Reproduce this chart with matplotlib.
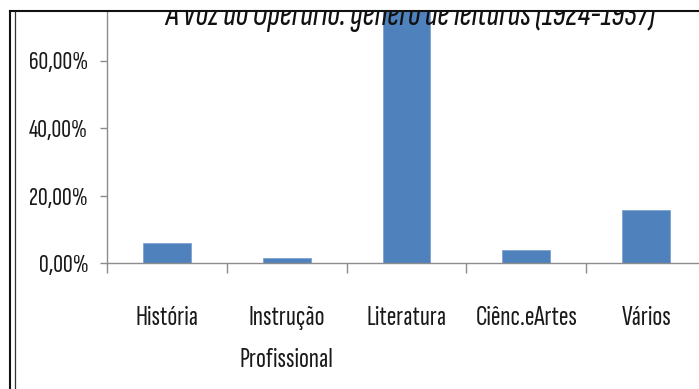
import matplotlib
matplotlib.use("Agg")
import matplotlib.pyplot as plt
from matplotlib.lines import Line2D
from matplotlib.patches import Rectangle
from matplotlib.ticker import FixedLocator, FuncFormatter

# Reading genres in "A Voz do Operário" (share of titles, %)
categories = ["História", "Instrução\nProfissional", "Literatura", "Ciênc.eArtes", "Vários"]
shares = [5.93, 1.60, 75.0, 3.97, 15.6]
y_ticks = [0, 20, 40, 60]
title = "A Voz do Operário: gênero de leituras (1924-1937)"

FONT = "Sofia Sans Extra Condensed"
TEXT = "#1a1a1a"
AXIS = "#8c8c8c"
BAR = "#4F81BD"

W, H = 699, 389
fig = plt.figure(figsize=(W / 100, H / 100), dpi=100)


def fx(px):
    return px / W


def fy(py):
    return 1 - py / H


# plot area: y axis at x=107, baseline at y=263, 20 % every 67.5 px
ax = fig.add_axes([fx(107), fy(263), fx(706) - fx(107), fy(11) - fy(263)])
pos = list(range(len(categories)))
ax.bar(pos, shares, width=0.4, color=BAR, edgecolor="#7ea3d3", linewidth=0.6, zorder=2)
ax.set_xlim(-0.5, len(categories) - 0.5)
ax.set_ylim(0, (263 - 11) / 67.5 * 20)

for side in ("top", "right"):
    ax.spines[side].set_visible(False)
for side in ("left", "bottom"):
    ax.spines[side].set_color(AXIS)
    ax.spines[side].set_linewidth(1.0)

ax.yaxis.set_major_locator(FixedLocator(y_ticks))
ax.yaxis.set_major_formatter(FuncFormatter(lambda v, _: f"{v:.2f}%".replace(".", ",")))
ax.tick_params(axis="y", direction="out", length=5, width=1.0, color=AXIS,
               pad=8.5, labelsize=19.5, labelcolor=TEXT)

ax.set_xticks(pos)
ax.set_xticklabels(categories, fontsize=21, color=TEXT, linespacing=1.95,
                   family=FONT, fontweight="light")
ax.set_xticks([p - 0.5 for p in pos] + [len(pos) - 0.5], minor=True)
ax.tick_params(axis="x", which="major", length=0, pad=31)
ax.tick_params(axis="x", which="minor", direction="out", length=7.2, width=1.0, color=AXIS)
for lab in ax.get_yticklabels():
    lab.set_family(FONT)
    lab.set_fontweight("light")

# title, partly hidden behind the top edge of the frame
fig.text(fx(410), fy(24.5), title, ha="center", va="baseline", family=FONT,
         fontsize=27, fontweight="bold", fontstyle="italic", color="#111111", zorder=5)
fig.patches.append(Rectangle((0, fy(10.5)), 1, 1 - fy(10.5), transform=fig.transFigure,
                             facecolor="white", edgecolor="none", zorder=10))

# frame lines
fig.lines.append(Line2D([fx(9.5), 1], [fy(11), fy(11)], transform=fig.transFigure,
                        color="#111111", linewidth=1.5, zorder=11))
fig.lines.append(Line2D([fx(10.3), fx(10.3)], [fy(10.5), 0], transform=fig.transFigure,
                        color="#111111", linewidth=1.5, zorder=11))
fig.lines.append(Line2D([fx(14.5), fx(14.5)], [fy(12), 0], transform=fig.transFigure,
                        color="#333333", linewidth=0.9, zorder=11))

fig.savefig("out.png", dpi=100)
